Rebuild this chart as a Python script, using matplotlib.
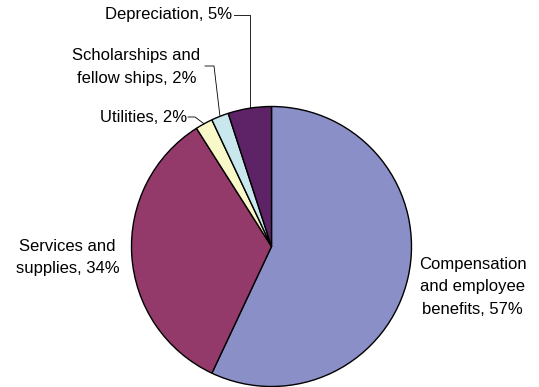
import numpy as np
import matplotlib.pyplot as plt

plt.rcParams['font.family'] = ['Liberation Sans', 'DejaVu Sans']

categories = ['Compensation\nand employee\nbenefits', 'Services and\nsupplies', 'Utilities',
              'Scholarships and\nfellow ships', 'Depreciation']
shares = [57, 34, 2, 2, 5]
colors = ['#8A8FC7', '#943A6A', '#F8F8C8', '#C8E8EE', '#5E2366']

W, H = 539, 387
fig = plt.figure(figsize=(W / 100, H / 100), dpi=100)
ax = fig.add_axes([0, 0, 1, 1])

cx, cy, r = 271.5, H - 246.5, 140
wedges, _ = ax.pie(shares, colors=colors, startangle=90, counterclock=False,
                   center=(cx, cy), radius=r, frame=True,
                   wedgeprops=dict(edgecolor='black', linewidth=1.0))
ax.set_xlim(0, W)
ax.set_ylim(0, H)
ax.set_aspect('equal')
ax.axis('off')


def label(i):
    return f'{categories[i]}, {shares[i]}%'


def edge_point(w):
    a = np.deg2rad((w.theta1 + w.theta2) / 2)
    return cx + r * np.cos(a), cy + r * np.sin(a)


fs = 12
ls = 1.62
# labels without leaders
ax.text(472.5, H - 287, label(0), ha='center', va='center', fontsize=fs, linespacing=ls)
ax.text(67.5, H - 257.5, label(1), ha='center', va='center', fontsize=fs, linespacing=ls)

# labels with leader lines: (index, text x, text y, ha, line start x, elbow x, line y)
leaders = [(2, 187, 117, 'right', 188, 195, 117),
           (3, 136.5, 67, 'center', 205, 214, 66),
           (4, 232, 15, 'right', 234, None, 15)]
for i, tx, ty, ha, lx, ex, ly in leaders:
    ax.text(tx, H - ty, label(i), ha=ha, va='center', fontsize=fs, linespacing=ls)
    px, py = edge_point(wedges[i])
    if ex is None:
        ex = px
    ax.plot([lx, ex, px], [H - ly, H - ly, py], color='black', lw=0.6)

fig.savefig('out.png', dpi=100)
